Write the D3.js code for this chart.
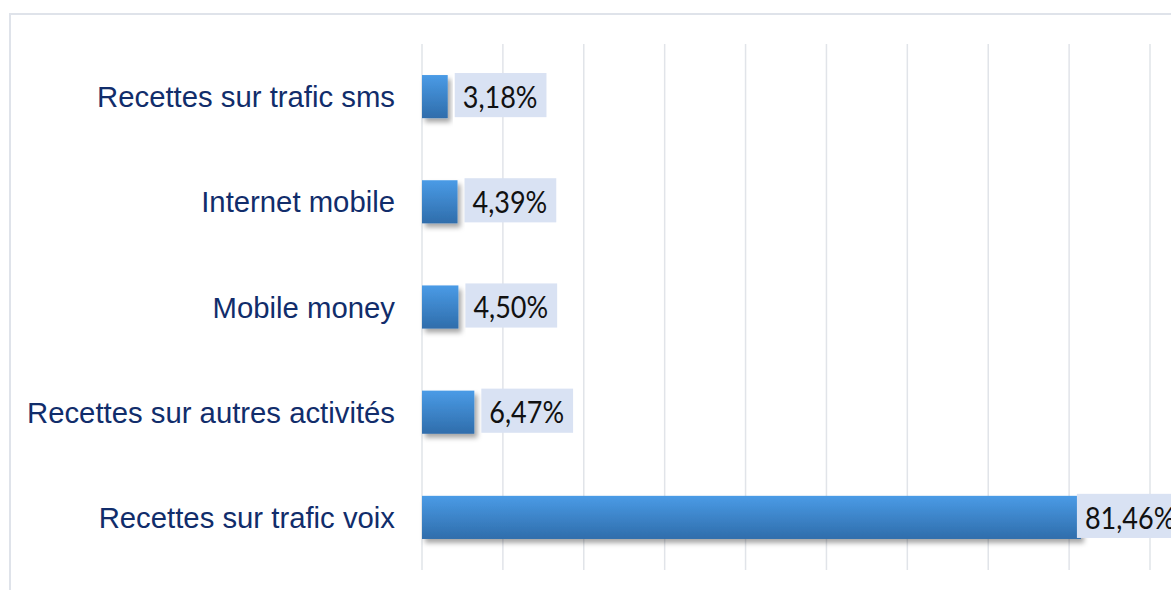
<!DOCTYPE html>
<html lang="fr">
<head>
<meta charset="utf-8">
<title>Répartition des recettes</title>
<script src="https://d3js.org/d3.v7.min.js"></script>
<style>
  html, body { margin: 0; padding: 0; background: #fff; }
  svg { display: block; }
</style>
</head>
<body>
<svg width="1171" height="590"></svg>
<script>
// data, top to bottom
const categories = [
  "Recettes sur trafic sms",
  "Internet mobile",
  "Mobile money",
  "Recettes sur autres activités",
  "Recettes sur trafic voix"
];
const values = [0.0318, 0.0439, 0.0450, 0.0647, 0.8146];
const valueLabels = ["3,18%", "4,39%", "4,50%", "6,47%", "81,46%"];
const gridTicks = [0, 0.1, 0.2, 0.3, 0.4, 0.5, 0.6, 0.7, 0.8, 0.9];

const svg = d3.select("svg");
const W = 1171, H = 590;
const plot = { left: 422, right: 1150, top: 44, bottom: 570 };

const x = d3.scaleLinear().domain([0, 0.9]).range([plot.left, plot.right]);
const y = d3.scaleBand().domain(categories).range([plot.top, plot.bottom])
  .paddingInner(0.59).paddingOuter(0.295);

const defs = svg.append("defs");
const grad = defs.append("linearGradient").attr("id", "barGrad")
  .attr("x1", 0).attr("y1", 0).attr("x2", 0).attr("y2", 1);
grad.append("stop").attr("offset", "0%").attr("stop-color", "#4a9be6");
grad.append("stop").attr("offset", "100%").attr("stop-color", "#2f6dab");

const shadow = defs.append("filter").attr("id", "shadow")
  .attr("x", "-10%").attr("y", "-20%").attr("width", "130%").attr("height", "160%");
shadow.append("feDropShadow").attr("dx", 3).attr("dy", 4)
  .attr("stdDeviation", 2.5).attr("flood-color", "#000").attr("flood-opacity", 0.35);

// outer frame (chart area border)
svg.append("rect")
  .attr("x", 10).attr("y", 14)
  .attr("width", W + 20).attr("height", H + 20)
  .attr("fill", "none").attr("stroke", "#dfe3ea").attr("stroke-width", 2);

// vertical gridlines
svg.append("g").selectAll("line")
  .data(gridTicks).join("line")
  .attr("x1", d => x(d)).attr("x2", d => x(d))
  .attr("y1", plot.top).attr("y2", plot.bottom)
  .attr("stroke", "#e1e4e9").attr("stroke-width", 1.5);

// bars
svg.append("g").selectAll("rect")
  .data(categories).join("rect")
  .attr("x", x(0))
  .attr("y", d => y(d))
  .attr("width", (d, i) => x(values[i]) - x(0))
  .attr("height", y.bandwidth())
  .attr("fill", "url(#barGrad)")
  .attr("filter", "url(#shadow)");

// category labels
svg.append("g").selectAll("text")
  .data(categories).join("text")
  .attr("x", 395)
  .attr("y", d => y(d) + y.bandwidth() / 2)
  .attr("dy", "0.36em")
  .attr("text-anchor", "end")
  .attr("font-family", "'Liberation Sans', Arial, sans-serif")
  .attr("font-size", 29.3)
  .attr("fill", "#112d6b")
  .text(d => d);

// value labels with light boxes
const lab = svg.append("g").selectAll("g")
  .data(categories).join("g");

lab.each(function(d, i) {
  const g = d3.select(this);
  const last = i === values.length - 1;
  const start = last ? x(values[i]) - 4 : x(values[i]) + 7;
  const box = g.append("rect")
    .attr("y", y(d) - 2)
    .attr("height", y.bandwidth() + 1)
    .attr("fill", "#d9e2f3");
  const t = g.append("text")
    .attr("y", y(d) + y.bandwidth() / 2)
    .attr("dy", "0.37em")
    .attr("font-family", "Lato, 'Open Sans', sans-serif")
    .attr("font-size", 30)
    .attr("fill", "#111")
    .text(valueLabels[i]);
  // the original face is narrower than Lato: squeeze a little
  const w = t.node().getComputedTextLength() * 0.9;
  t.attr("textLength", w).attr("lengthAdjust", "spacingAndGlyphs");
  box.attr("x", start).attr("width", w + 17);
  t.attr("x", start + 8);
});
</script>
</body>
</html>
